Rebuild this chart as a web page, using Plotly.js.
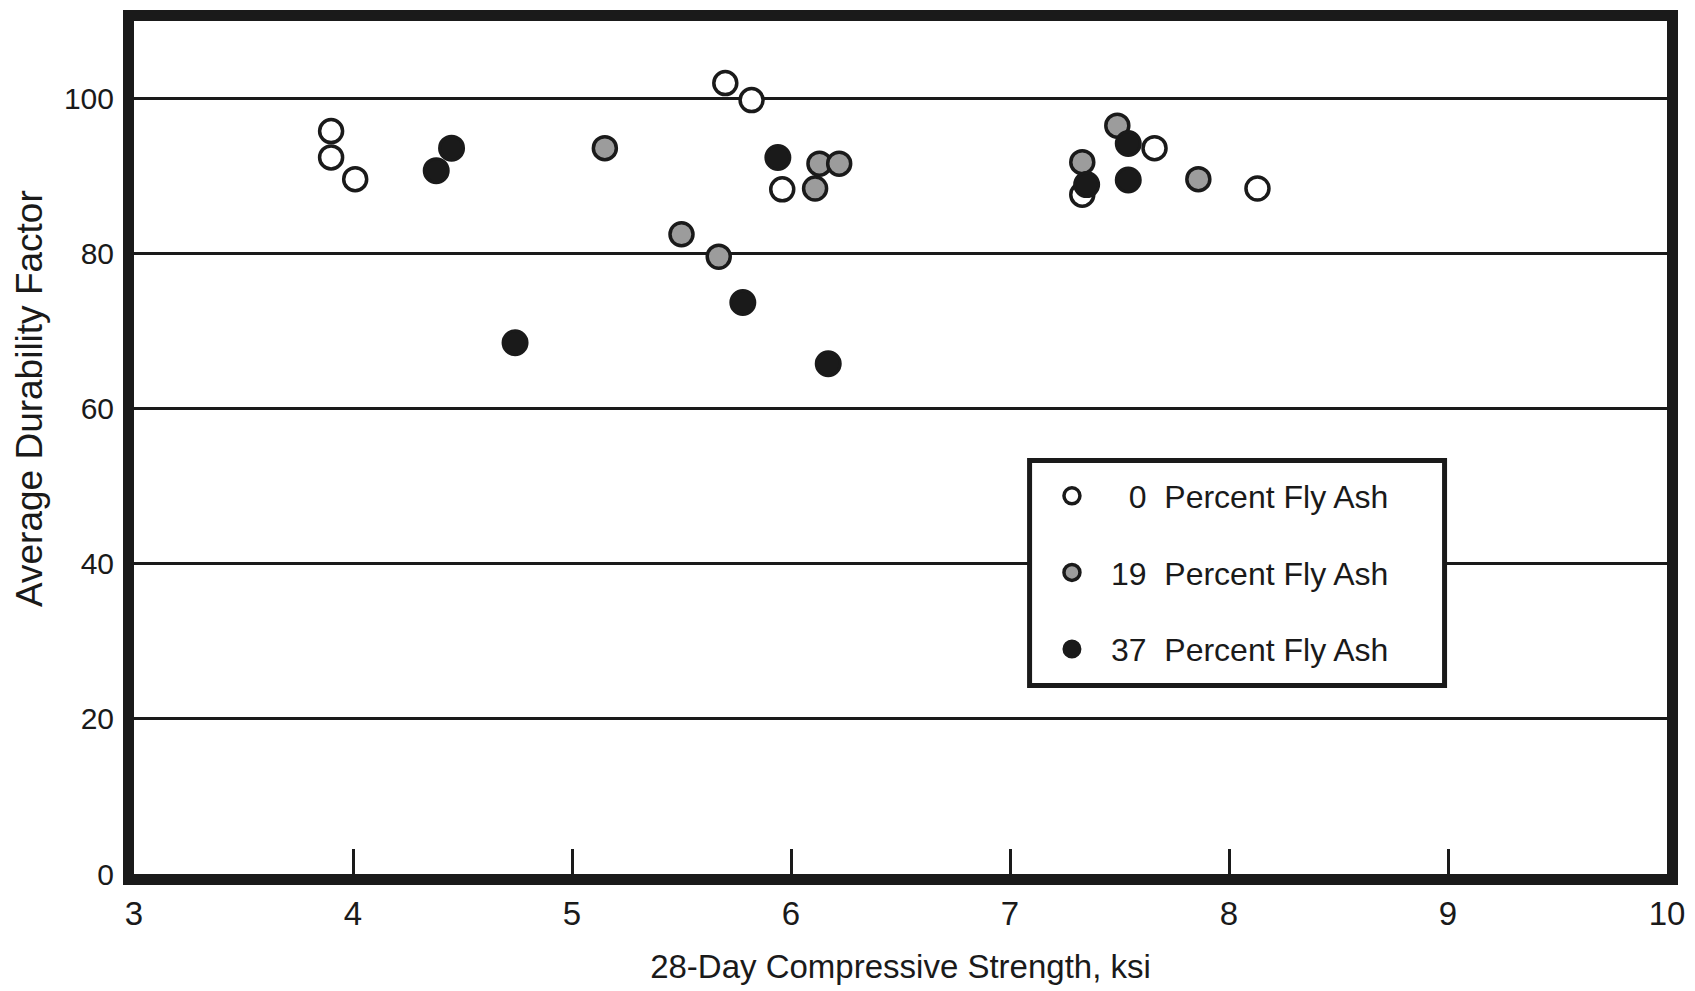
<!DOCTYPE html>
<html>
<head>
<meta charset="utf-8">
<script src="https://cdn.plot.ly/plotly-3.0.1.min.js"></script>
<style>
  html, body { margin: 0; padding: 0; background: #ffffff; }
  #chart { width: 1695px; height: 991px; }
</style>
</head>
<body>
<div id="chart"></div>
<script>
// ---- Data ----
const seriesNames = [
  "\u00a0\u00a00\u00a0\u00a0Percent Fly Ash",
  "19\u00a0\u00a0Percent Fly Ash",
  "37\u00a0\u00a0Percent Fly Ash"
];

// 0 percent fly ash (open circles)
const strength0 = [3.90, 3.90, 4.01, 5.70, 5.82, 5.96, 7.33, 7.66, 8.13];
const durability0 = [95.8, 92.4, 89.6, 102.0, 99.8, 88.3, 87.6, 93.6, 88.4];

// 19 percent fly ash (shaded circles)
const strength19 = [5.15, 5.50, 5.67, 6.11, 6.13, 6.22, 7.33, 7.49, 7.86];
const durability19 = [93.6, 82.5, 79.6, 88.4, 91.6, 91.6, 91.8, 96.5, 89.6];

// 37 percent fly ash (solid circles)
const strength37 = [4.38, 4.45, 4.74, 5.78, 5.94, 6.17, 7.35, 7.54, 7.54];
const durability37 = [90.7, 93.6, 68.5, 73.7, 92.4, 65.8, 88.9, 94.2, 89.5];

const xTickVals = [3, 4, 5, 6, 7, 8, 9, 10];
const xTickText = ["3", "4", "5", "6", "7", "8", "9", "10"];
const yTickVals = [0, 20, 40, 60, 80, 100];
const yTickText = ["0", "20", "40", "60", "80", "100"];

const xTitle = "28-Day Compressive Strength, ksi";
const yTitle = "Average Durability Factor";

// ---- Styles ----
const INK = "#1a1a1a";
const baseFont = "Liberation Sans, Arial, Helvetica, sans-serif";

const traces = [
  {
    x: strength0, y: durability0, name: seriesNames[0],
    type: "scatter", mode: "markers", legendgroup: "g0",
    marker: { symbol: "circle", size: 23, color: "#ffffff", line: { color: INK, width: 3.5 } }
  },
  {
    x: strength19, y: durability19, name: seriesNames[1],
    type: "scatter", mode: "markers", legendgroup: "g1",
    marker: { symbol: "circle", size: 23, color: "#9c9c9c", line: { color: INK, width: 3.5 } }
  },
  {
    x: strength37, y: durability37, name: seriesNames[2],
    type: "scatter", mode: "markers", legendgroup: "g2",
    marker: { symbol: "circle", size: 24, color: INK, line: { color: INK, width: 3 } }
  }
];

const layout = {
  width: 1695,
  height: 991,
  paper_bgcolor: "#ffffff",
  plot_bgcolor: "#ffffff",
  margin: { l: 134, r: 28, t: 21, b: 117, pad: 0 },
  showlegend: true,
  legend: {
    x: 0.5864, y: 0.4754, xanchor: "left", yanchor: "top",
    bgcolor: "rgba(0,0,0,0)", borderwidth: 0,
    font: { family: baseFont, size: 32, color: INK },
    tracegroupgap: 32,
    itemwidth: 68
  },
  shapes: [
    {
      type: "rect", xref: "paper", yref: "paper", layer: "above",
      x0: 0.5842, x1: 0.8549, y0: 0.2210, y1: 0.4848,
      fillcolor: "#ffffff", line: { color: INK, width: 5 }
    }
  ],
  xaxis: {
    range: [3, 10],
    tickmode: "array", tickvals: xTickVals, ticktext: xTickText,
    ticks: "inside", ticklen: 25, tickwidth: 3, tickcolor: INK,
    showline: true, linewidth: 11, linecolor: INK, mirror: true,
    showgrid: false, zeroline: false,
    tickfont: { family: baseFont, size: 33, color: INK },
    title: { text: xTitle, font: { family: baseFont, size: 33, color: INK }, standoff: 29 }
  },
  yaxis: {
    range: [0, 110],
    tickmode: "array", tickvals: yTickVals, ticktext: yTickText,
    ticks: "",
    showline: true, linewidth: 11, linecolor: INK, mirror: true,
    showgrid: true, gridcolor: INK, gridwidth: 3,
    zeroline: false,
    tickfont: { family: baseFont, size: 30, color: INK },
    ticklabelstandoff: 3
  },
  annotations: [
    {
      text: yTitle, xref: "paper", yref: "paper",
      x: -0.0685, y: 0.558, xanchor: "center", yanchor: "middle",
      textangle: -90, showarrow: false,
      font: { family: baseFont, size: 37, color: INK }
    }
  ]
};

Plotly.newPlot("chart", traces, layout, { displayModeBar: false, staticPlot: true });
</script>
</body>
</html>
